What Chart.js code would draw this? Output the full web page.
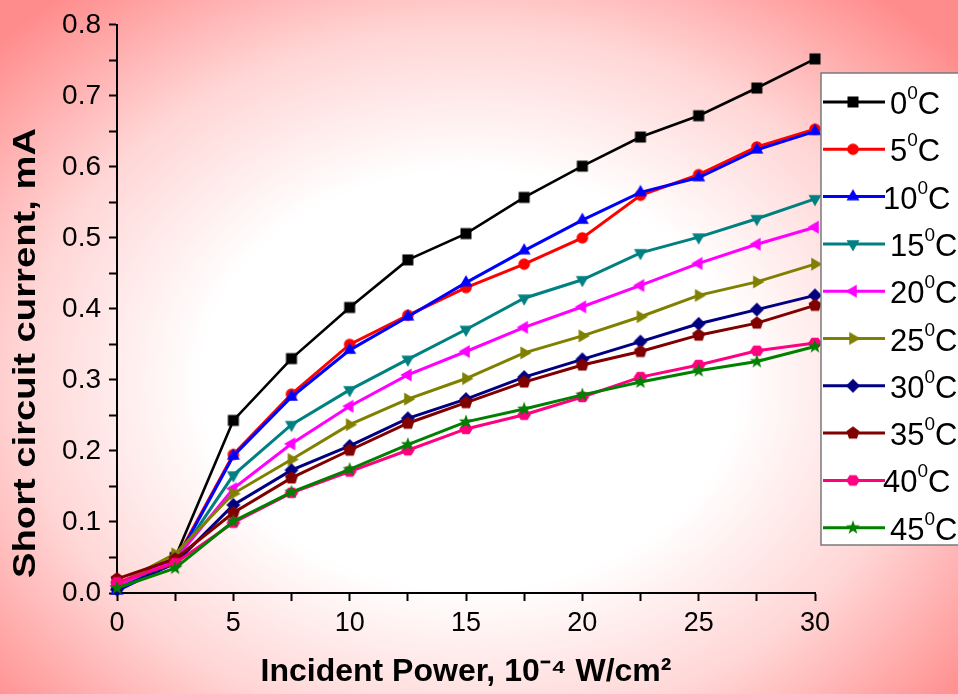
<!DOCTYPE html>
<html lang="en">
  <head>
    <meta charset="UTF-8">
    <title>Short circuit current vs incident power</title>
    <script src="https://cdn.jsdelivr.net/npm/chart.js"></script>
    <style>
      html, body { margin: 0; padding: 0; background: #fff; }
      #wrap { width: 958px; height: 694px; }
    </style>
  </head>
  <body>
  <div id="wrap"><canvas id="chart" width="958" height="694"></canvas></div>
    <script>
    // incident power, 10^-4 W/cm2
    const power = [0, 2.5, 5, 7.5, 10, 12.5, 15, 17.5, 20, 22.5, 25, 27.5, 30];

    // short circuit current (mA) at each temperature
    const isc0  = [0.010, 0.050, 0.243, 0.330, 0.402, 0.469, 0.506, 0.557, 0.601, 0.642, 0.672, 0.711, 0.752];
    const isc5  = [0.010, 0.045, 0.195, 0.280, 0.350, 0.391, 0.430, 0.463, 0.500, 0.560, 0.589, 0.628, 0.653];
    const isc10 = [0.003, 0.043, 0.193, 0.276, 0.342, 0.389, 0.437, 0.482, 0.525, 0.564, 0.585, 0.624, 0.650];
    const isc15 = [0.008, 0.045, 0.166, 0.237, 0.286, 0.329, 0.371, 0.415, 0.441, 0.479, 0.501, 0.527, 0.555];
    const isc20 = [0.010, 0.047, 0.147, 0.210, 0.263, 0.307, 0.340, 0.374, 0.403, 0.433, 0.464, 0.491, 0.515];
    const isc25 = [0.012, 0.055, 0.140, 0.188, 0.237, 0.273, 0.302, 0.338, 0.362, 0.389, 0.419, 0.438, 0.463];
    const isc30 = [0.005, 0.042, 0.124, 0.173, 0.207, 0.246, 0.273, 0.304, 0.329, 0.354, 0.379, 0.399, 0.419];
    const isc35 = [0.020, 0.048, 0.113, 0.162, 0.201, 0.239, 0.268, 0.297, 0.321, 0.340, 0.363, 0.380, 0.405];
    const isc40 = [0.015, 0.042, 0.099, 0.141, 0.171, 0.201, 0.231, 0.251, 0.276, 0.304, 0.321, 0.341, 0.352];
    const isc45 = [0.007, 0.035, 0.101, 0.142, 0.174, 0.209, 0.241, 0.259, 0.279, 0.297, 0.313, 0.326, 0.347];

    const temps = ['0', '5', '10', '15', '20', '25', '30', '35', '40', '45'];
    const series = [isc0, isc5, isc10, isc15, isc20, isc25, isc30, isc35, isc40, isc45];
    const colors = ['#000000', '#ff0000', '#0000ff', '#008080', '#ff00ff',
                    '#808000', '#000080', '#800000', '#ff0080', '#008000'];
    const shapes = ['square', 'circle', 'up', 'down', 'left', 'right',
                    'diamond', 'pentagon', 'hexagon', 'star'];

    const yTitle = 'Short circuit current, mA';
    const FONT = '"Liberation Sans", Arial, sans-serif';

    // small canvases used as point markers (Origin style symbols)
    function makeMarker(kind, color) {
      const s = 16;
      const c = document.createElement('canvas');
      c.width = s; c.height = s;
      const g = c.getContext('2d');
      g.fillStyle = color;
      g.translate(s / 2, s / 2);
      const poly = (n, r, rot, ry) => {
        g.beginPath();
        for (let k = 0; k < n; k++) {
          const a = rot + k * 2 * Math.PI / n;
          const px = r * Math.cos(a), py = (ry || r) * Math.sin(a);
          k ? g.lineTo(px, py) : g.moveTo(px, py);
        }
        g.closePath();
        g.fill();
      };
      switch (kind) {
        case 'square': g.fillRect(-5.5, -5.5, 11, 11); break;
        case 'circle': g.beginPath(); g.arc(0, 0, 5.8, 0, 2 * Math.PI); g.fill(); break;
        case 'up': poly(3, 7.5, -Math.PI / 2); break;
        case 'down': poly(3, 7.5, Math.PI / 2); break;
        case 'left': poly(3, 7.5, Math.PI); break;
        case 'right': poly(3, 7.5, 0); break;
        case 'diamond': poly(4, 7, -Math.PI / 2); break;
        case 'pentagon': poly(5, 6.8, -Math.PI / 2); break;
        case 'hexagon': poly(6, 6.8, 0, 6); break;
        case 'star': {
          g.beginPath();
          for (let k = 0; k < 10; k++) {
            const r = k % 2 ? 3 : 7.5;
            const a = -Math.PI / 2 + k * Math.PI / 5;
            k ? g.lineTo(r * Math.cos(a), r * Math.sin(a)) : g.moveTo(r * Math.cos(a), r * Math.sin(a));
          }
          g.closePath();
          g.fill();
          break;
        }
      }
      return c;
    }

    const markers = shapes.map((k, i) => makeMarker(k, colors[i]));

    const datasets = series.map((vals, i) => ({
      label: temps[i] + '\u2070C',
      data: power.map((p, j) => ({ x: p, y: vals[j] })),
      borderColor: colors[i],
      backgroundColor: colors[i],
      borderWidth: i === 0 ? 2.6 : 3,
      pointStyle: markers[i],
      pointRadius: 6,
      tension: 0,
      clip: false,
      order: series.length - i  // later series drawn on top
    }));

    // pink-to-white radial wash behind everything
    const backdrop = {
      id: 'backdrop',
      beforeDraw(chart) {
        const ctx = chart.ctx;
        const w = chart.width, h = chart.height;
        ctx.save();
        ctx.translate(470, 380);
        ctx.scale(1, 0.78);
        const grad = ctx.createRadialGradient(0, 0, 0, 0, 0, 640);
        grad.addColorStop(0, '#ffffff');
        grad.addColorStop(0.42, '#ffffff');
        grad.addColorStop(0.7, '#ffd6d6');
        grad.addColorStop(1, '#ff8c8c');
        ctx.fillStyle = grad;
        ctx.fillRect(-470, -380 / 0.78, w, h / 0.78 + 100);
        ctx.restore();
      }
    };

    // rotated y title, stretched along its length like the Origin export
    const yAxisTitle = {
      id: 'yAxisTitle',
      afterDraw(chart) {
        const ctx = chart.ctx;
        ctx.save();
        ctx.translate(26, 353);
        ctx.rotate(-Math.PI / 2);
        ctx.font = 'bold 31px ' + FONT;
        const wText = ctx.measureText(yTitle).width;
        ctx.scale(450 / wText, 1);
        ctx.fillStyle = '#000';
        ctx.textAlign = 'center';
        ctx.textBaseline = 'middle';
        ctx.fillText(yTitle, 0, 0);
        ctx.restore();
      }
    };

    // boxed legend on the right with line + symbol and superscript degree
    const sideLegend = {
      id: 'sideLegend',
      afterDraw(chart) {
        const ctx = chart.ctx;
        ctx.save();
        ctx.fillStyle = '#ffffff';
        ctx.fillRect(821, 73, 150, 472);
        ctx.strokeStyle = '#7a7a7a';
        ctx.lineWidth = 1.5;
        ctx.strokeRect(821, 73, 150, 472);
        temps.forEach((t, i) => {
          const y = 102 + i * 47.3;
          ctx.strokeStyle = colors[i];
          ctx.lineWidth = 3;
          ctx.beginPath();
          ctx.moveTo(823, y);
          ctx.lineTo(885, y);
          ctx.stroke();
          const m = markers[i];
          ctx.drawImage(m, 853 - m.width / 2, y - m.height / 2);
          ctx.fillStyle = '#000000';
          ctx.textBaseline = 'alphabetic';
          let x = (t === '10' || t === '40') ? 883 : 890;
          ctx.font = '31px ' + FONT;
          ctx.fillText(t, x, y + 12);
          x += ctx.measureText(t).width;
          ctx.font = '19px ' + FONT;
          ctx.fillText('0', x, y - 3);
          x += ctx.measureText('0').width;
          ctx.font = '31px ' + FONT;
          ctx.fillText('C', x, y + 12);
        });
        ctx.restore();
      }
    };

    const ctx = document.getElementById('chart').getContext('2d');
    new Chart(ctx, {
      type: 'line',
      data: { datasets: datasets },
      plugins: [backdrop, yAxisTitle, sideLegend],
      options: {
        responsive: false,
        animation: false,
        layout: { padding: { top: 24, right: 143, left: 0, bottom: 0 } },
        plugins: {
          legend: { display: false },
          tooltip: { enabled: false }
        },
        scales: {
          x: {
            type: 'linear',
            min: 0,
            max: 30,
            afterFit: s => { s.height = 101; },
            border: { display: true, color: '#000', width: 2 },
            grid: { drawOnChartArea: false, drawTicks: true, tickLength: 8, tickColor: '#000', tickWidth: 2 },
            ticks: {
              stepSize: 2.5,
              autoSkip: false,
              maxRotation: 0,
              padding: 6,
              color: '#000',
              font: { family: FONT, size: 27 },
              callback: v => (v % 5 === 0 ? String(v) : '')
            },
            title: {
              display: true,
              text: 'Incident Power, 10\u207B\u2074 W/cm\u00B2',
              color: '#000',
              font: { family: FONT, size: 32, weight: 'bold' },
              padding: { top: 0, bottom: 3 }
            }
          },
          y: {
            min: 0,
            max: 0.8,
            afterFit: s => { s.width = 117; },
            border: { display: true, color: '#000', width: 2 },
            grid: { drawOnChartArea: false, drawTicks: true, tickLength: 8, tickColor: '#000', tickWidth: 2 },
            ticks: {
              stepSize: 0.05,
              autoSkip: false,
              padding: 8,
              color: '#000',
              font: { family: FONT, size: 28 },
              callback: v => {
                const d = Math.round(v * 100);
                return d % 10 === 0 ? (d / 100).toFixed(1) : '';
              }
            },
            title: { display: false }
          }
        }
      }
    });
    </script>
  </body>
</html>
